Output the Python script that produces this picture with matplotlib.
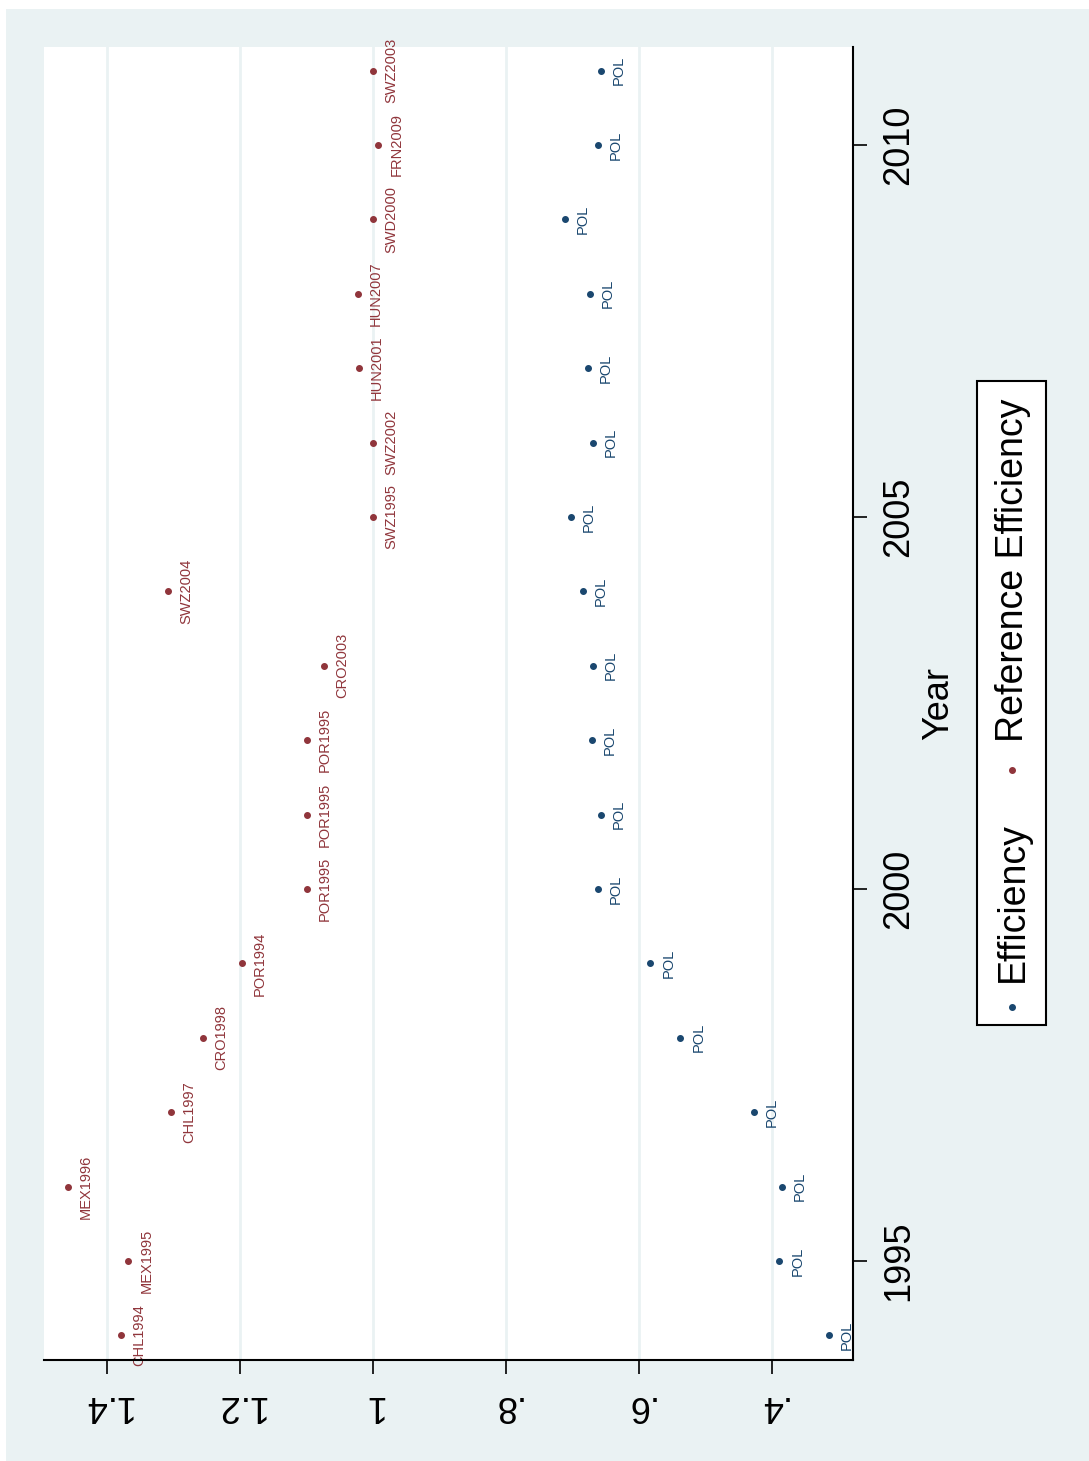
import matplotlib.pyplot as plt
from matplotlib.patches import Rectangle

plt.rcParams['font.family'] = ['Liberation Sans', 'DejaVu Sans']

years = list(range(1994, 2012))
eff = [0.314, 0.389, 0.385, 0.427, 0.538, 0.583, 0.662, 0.657, 0.671,
       0.669, 0.684, 0.702, 0.669, 0.677, 0.674, 0.711, 0.662, 0.657]
eff_labels = ['POL'] * len(years)
ref_eff = [1.379, 1.368, 1.459, 1.304, 1.256, 1.197, 1.099, 1.099, 1.099,
           1.074, 1.308, 1.000, 1.000, 1.021, 1.023, 1.000, 0.992, 1.000]
ref_labels = ['CHL1994', 'MEX1995', 'MEX1996', 'CHL1997', 'CRO1998', 'POR1994',
              'POR1995', 'POR1995', 'POR1995', 'CRO2003', 'SWZ2004', 'SWZ1995',
              'SWZ2002', 'HUN2001', 'HUN2007', 'SWD2000', 'FRN2009', 'SWZ2003']

eff_ticks = [1.4, 1.2, 1.0, 0.8, 0.6, 0.4]
eff_ticklabels = ['1.4', '1.2', '1', '.8', '.6', '.4']
year_ticks = [1995, 2000, 2005, 2010]

blue = '#1a476f'
red = '#90353b'
bg = '#eaf2f3'

W, H = 1089, 1461
fig = plt.figure(figsize=(W / 100, H / 100), dpi=100)
fig.patch.set_facecolor('white')
fig.patches.append(Rectangle((6 / W, 0), (W - 6) / W, (H - 9) / H,
                             transform=fig.transFigure, facecolor=bg,
                             edgecolor='none', zorder=-10))

# plot region (chart is drawn turned 90 degrees: efficiency runs along x, year along y)
ax = fig.add_axes([44 / W, 1 - 1360 / H, (853 - 44) / W, (1360 - 47) / H])
ax.set_facecolor('white')
ax.set_xlim(1.4947, 0.2782)
ax.set_ylim(1993.669, 2011.317)

for v in eff_ticks:
    ax.axvline(v, color=bg, lw=2, zorder=0)

ax.plot(eff, years, 'o', color=blue, ms=4, zorder=3)
ax.plot(ref_eff, years, 'o', color=red, ms=4, zorder=3)

for x, y, s in zip(eff, years, eff_labels):
    ax.annotate(s, (x, y), xytext=(13, 0), textcoords='offset points',
                rotation=90, ha='center', va='center', fontsize=10.5,
                color=blue, annotation_clip=False, zorder=4)
for x, y, s in zip(ref_eff, years, ref_labels):
    ax.annotate(s, (x, y), xytext=(13, 0), textcoords='offset points',
                rotation=90, ha='center', va='center', fontsize=10.5,
                color=red, annotation_clip=False, zorder=4)

for side in ['top', 'left']:
    ax.spines[side].set_visible(False)
for side in ['right', 'bottom']:
    ax.spines[side].set_linewidth(1.5)
    ax.spines[side].set_zorder(5)

ax.set_xticks(eff_ticks)
ax.set_xticklabels(eff_ticklabels, rotation=180, fontsize=26)
ax.yaxis.tick_right()
ax.set_yticks(year_ticks)
ax.set_yticklabels([str(y) for y in year_ticks], rotation=90, va='center',
                   fontsize=26)
ax.tick_params(axis='both', length=10, width=1.2, pad=10)

ax.yaxis.set_label_position('right')
ax.set_ylabel('Year', fontsize=26, rotation=90, labelpad=4)

# legend box, turned like the rest of the chart
fig.patches.append(Rectangle((977 / W, 1 - 1025 / H), 69 / W, 644 / H,
                             transform=fig.transFigure, facecolor='white',
                             edgecolor='black', lw=1.5))
fig.lines.append(plt.Line2D([1012 / W], [1 - 1007 / H], marker='o', ms=4,
                            color=blue, transform=fig.transFigure))
fig.text(1013 / W, 1 - 902 / H, 'Efficiency', rotation=90, ha='center',
         va='center', fontsize=27)
fig.lines.append(plt.Line2D([1012 / W], [1 - 770 / H], marker='o', ms=4,
                            color=red, transform=fig.transFigure))
fig.text(1013 / W, 1 - 570 / H, 'Reference Efficiency', rotation=90,
         ha='center', va='center', fontsize=27)

fig.savefig('out.png', dpi=100)
